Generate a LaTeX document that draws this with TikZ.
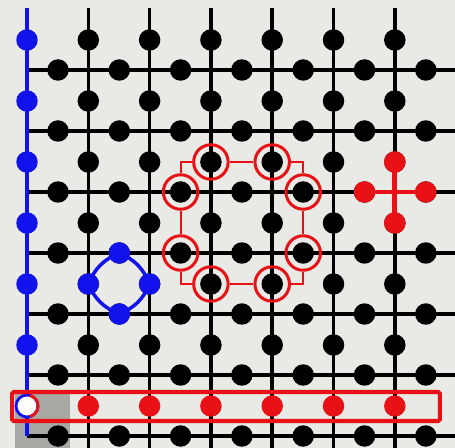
\documentclass[tikz,border=0pt]{standalone}
\usepackage{tikz}
\usetikzlibrary{calc}

\definecolor{paper}{RGB}{233,234,229}
\definecolor{qred}{RGB}{232,18,22}
\definecolor{qblue}{RGB}{18,18,236}
\definecolor{cornergray}{RGB}{168,168,165}

\begin{document}
\begin{tikzpicture}[
    x=0.02cm, y=-0.02cm,
    wire/.style={line width=2pt, black},
    qubit/.style={circle, fill=black, inner sep=0pt, outer sep=0pt, minimum size=0.43cm},
    zqubit/.style={qubit, fill=qblue},
    xqubit/.style={qubit, fill=qred},
    ring/.style={circle, draw=qred, line width=1.7pt, inner sep=0pt, minimum size=0.69cm},
    ringlink/.style={qred, line width=1.1pt},
    crossline/.style={qred, line width=2.8pt},
    zloop/.style={qblue, line width=2pt},
    xstring/.style={draw=qred, line width=2.3pt, rounded corners=1pt, inner sep=0pt, minimum width=8.56cm, minimum height=0.58cm}
]
\useasboundingbox (0,0) rectangle (455,448);
\fill[paper] (0,0) rectangle (455,448);
\fill[cornergray] (15,393) rectangle (70,448);

\foreach \i in {1,...,6}
    \draw[wire] ({27+61.3*\i},8) -- ({27+61.3*\i},448);
\foreach \j in {0,...,6}
    \draw[wire] (27,{70+61*\j}) -- (455,{70+61*\j});
\draw[wire, qblue, line width=1.9pt] (27,8) -- (27,436);

\foreach \i in {1,...,6}
    \foreach \j in {0,...,5}
        \node[qubit] (v-\i-\j) at ({27+61.3*\i},{40+61*\j}) {};
\foreach \i in {0,...,6}
    \foreach \j in {0,...,6}
        \node[qubit] (h-\i-\j) at ({58+61.3*\i},{70+61*\j}) {};

\foreach \j in {0,...,5}
    \node[zqubit] (z-\j) at (27,{40+61*\j}) {};
\foreach \i in {1,...,6}
    \node[xqubit] (x-\i) at ({27+61.3*\i},406) {};

\node[qubit, fill=white, draw=qblue, line width=1.6pt, minimum size=0.44cm] (z-6) at (27,406) {};
\draw[qred, line width=1.6pt] ([shift={(-75:0.22cm)}]z-6.center) arc[start angle=-75, end angle=75, radius=0.22cm];

\draw[crossline] (h-5-2.center) -- (h-6-2.center);
\draw[crossline] (v-6-2.center) -- (v-6-3.center);
\node[xqubit] (c-w) at (h-5-2) {};
\node[xqubit] (c-e) at (h-6-2) {};
\node[xqubit] (c-n) at (v-6-2) {};
\node[xqubit] (c-s) at (v-6-3) {};

\node[ring] (o-t1) at (v-3-2) {};
\node[ring] (o-t2) at (v-4-2) {};
\node[ring] (o-l1) at (h-2-2) {};
\node[ring] (o-l2) at (h-2-3) {};
\node[ring] (o-r1) at (h-4-2) {};
\node[ring] (o-r2) at (h-4-3) {};
\node[ring] (o-b1) at (v-3-4) {};
\node[ring] (o-b2) at (v-4-4) {};
\draw[ringlink] (o-t1) -| (o-l1);
\draw[ringlink] (o-l1) -- (o-l2);
\draw[ringlink] (o-l2) |- (o-b1);
\draw[ringlink] (o-b1) -- (o-b2);
\draw[ringlink] (o-b2) -| (o-r2);
\draw[ringlink] (o-r2) -- (o-r1);
\draw[ringlink] (o-r1) |- (o-t2);
\draw[ringlink] (o-t2) -- (o-t1);

\draw[zloop] (h-1-3.center) to[bend left=22] (v-2-4.center)
    to[bend left=22] (h-1-4.center) to[bend left=22] (v-1-4.center)
    to[bend left=22] (h-1-3.center);
\node[zqubit] (p-n) at (h-1-3) {};
\node[zqubit] (p-e) at (v-2-4) {};
\node[zqubit] (p-s) at (h-1-4) {};
\node[zqubit] (p-w) at (v-1-4) {};

\node[xstring] (row) at (226,406.5) {};
\end{tikzpicture}
\end{document}
